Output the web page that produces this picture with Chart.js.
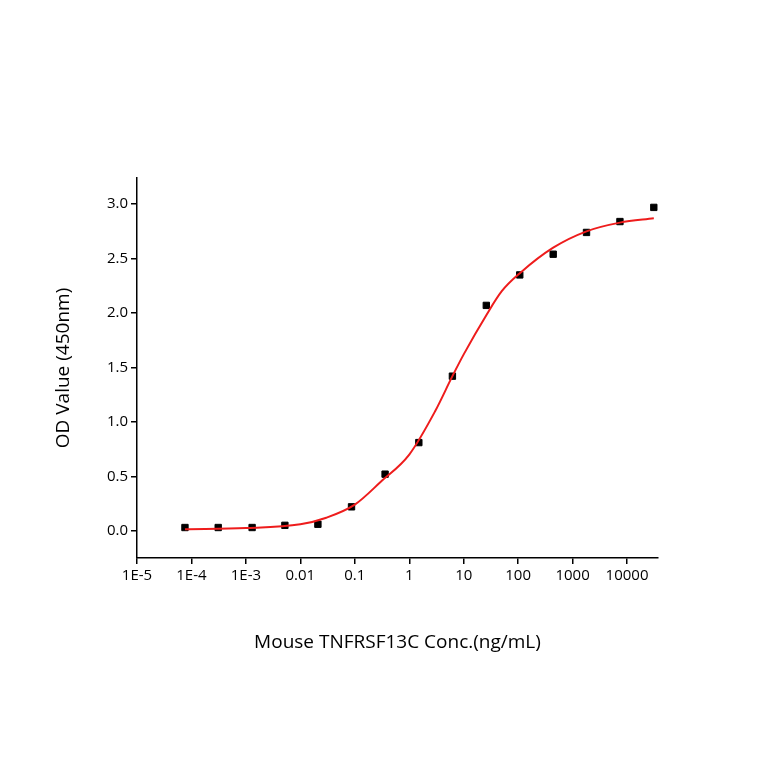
<!DOCTYPE html>
<html>
<head>
<meta charset="utf-8">
<script src="https://cdn.jsdelivr.net/npm/chart.js@4.4.1/dist/chart.umd.min.js"></script>
<style>
  html, body { margin: 0; background: #fff; }
  #wrap { width: 764px; height: 764px; }
</style>
</head>
<body>
<div id="wrap"><canvas id="c" width="764" height="764"></canvas></div>
<script>
// measured points (conc ng/mL, OD 450nm)
const concs = [7.6e-5, 3.1e-4, 1.3e-3, 5.2e-3, 0.021, 0.087, 0.36, 1.5, 6.2, 26, 107, 440, 1800, 7400, 31000];
const odValues = [0.03, 0.03, 0.03, 0.05, 0.06, 0.22, 0.52, 0.81, 1.42, 2.07, 2.35, 2.54, 2.74, 2.84, 2.97];

// fitted curve
const curveX = [7.6e-5, 1e-3, 0.01, 0.03, 0.1, 0.3, 1, 3, 6.2, 10, 26, 50, 110, 440, 1800, 7400, 31000];
const curveY = [0.015, 0.025, 0.06, 0.12, 0.24, 0.45, 0.70, 1.1, 1.42, 1.62, 1.98, 2.2, 2.37, 2.6, 2.75, 2.83, 2.87];

const xTickLabels = { "-5": "1E-5", "-4": "1E-4", "-3": "1E-3", "-2": "0.01", "-1": "0.1",
  "0": "1", "1": "10", "2": "100", "3": "1000", "4": "10000" };

const pts = concs.map((x, i) => ({ x: x, y: odValues[i] }));
const fit = curveX.map((x, i) => ({ x: x, y: curveY[i] }));

new Chart(document.getElementById("c"), {
    type: "scatter",
    data: {
        datasets: [
            {
                data: fit,
                showLine: true,
                borderColor: "#ee1c1c",
                borderWidth: 2,
                pointRadius: 0,
                cubicInterpolationMode: "monotone"
            },
            {
                data: pts,
                pointStyle: "rect",
                pointRadius: 4.5,
                backgroundColor: "#000",
                borderColor: "#000"
            }
        ]
    },
    options: {
        responsive: false,
        animation: false,
        layout: { padding: { top: 178, right: 106, bottom: 106, left: 0 } },
        plugins: { legend: { display: false }, tooltip: { enabled: false } },
        scales: {
            x: {
                type: "logarithmic",
                min: 1e-5,
                max: 37000,
                afterBuildTicks: (axis) => {
                    axis.ticks = [-5, -4, -3, -2, -1, 0, 1, 2, 3, 4].map(e => ({ value: Math.pow(10, e) }));
                },
                afterFit: (axis) => { axis.height = 100; },
                ticks: {
                    autoSkip: false,
                    maxRotation: 0,
                    color: "#000",
                    font: { family: "Open Sans", size: 15 },
                    callback: (v) => xTickLabels[String(Math.round(Math.log10(v)))]
                },
                grid: { drawOnChartArea: false, tickLength: 6, color: "#000", lineWidth: 1.5 },
                border: { color: "#000", width: 1.5 },
                title: {
                    display: true,
                    text: "Mouse TNFRSF13C Conc.(ng/mL)",
                    color: "#000",
                    font: { family: "Open Sans", size: 19 },
                    padding: { top: 10 }
                }
            },
            y: {
                min: -0.25,
                max: 3.24,
                afterBuildTicks: (axis) => {
                    axis.ticks = [0, 0.5, 1, 1.5, 2, 2.5, 3].map(v => ({ value: v }));
                },
                afterFit: (axis) => { axis.width = 137; },
                ticks: {
                    color: "#000",
                    font: { family: "Open Sans", size: 15 },
                    callback: (v) => v.toFixed(1)
                },
                grid: { drawOnChartArea: false, tickLength: 6, color: "#000", lineWidth: 1.5 },
                border: { color: "#000", width: 1.5 },
                title: {
                    display: true,
                    text: "OD Value (450nm)",
                    color: "#000",
                    font: { family: "Open Sans", size: 19 },
                    padding: { top: 52, bottom: 0 }
                }
            }
        }
    }
});
</script>
</body>
</html>
